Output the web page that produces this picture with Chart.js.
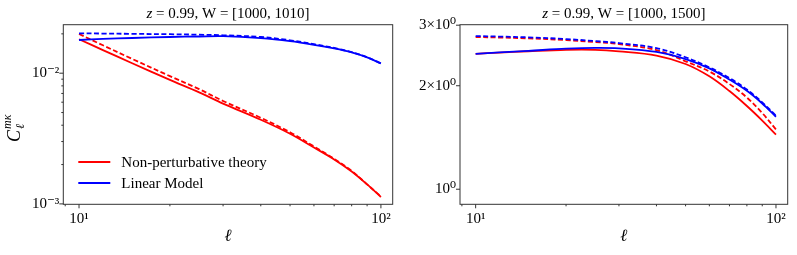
<!DOCTYPE html>
<html>
<head>
<meta charset="utf-8">
<script src="https://cdn.jsdelivr.net/npm/chart.js@4.4.1/dist/chart.umd.min.js"></script>
<style>
  body { margin: 0; background: #fff; }
  #wrap { position: relative; width: 797px; height: 255px; }
  canvas { position: absolute; top: 0; }
</style>
</head>
<body>
<div id="wrap">
  <canvas id="left" width="400" height="255" style="left:0"></canvas>
  <canvas id="right" width="397" height="255" style="left:400px"></canvas>
</div>
<script>
const ell = [10, 12, 15, 20, 25, 30, 40, 50, 60, 70, 80, 90, 100];

// left panel, W = [1000, 1010]
const nptNarrow     = [0.01817, 0.01503, 0.01192, 0.0089, 0.00714, 0.00585, 0.0044, 0.00344, 0.0027, 0.00219, 0.00177, 0.00141, 0.00113];
const nptNarrowDash = [0.01995, 0.01635, 0.01286, 0.0095, 0.00755, 0.00613, 0.00456, 0.00353, 0.00275, 0.00221, 0.00179, 0.00141, 0.00114];
const linNarrow     = [0.01795, 0.01828, 0.01859, 0.01892, 0.01909, 0.01919, 0.01853, 0.01758, 0.0165, 0.01546, 0.01441, 0.0132, 0.01188];
const linNarrowDash = [0.02018, 0.02011, 0.0200, 0.01987, 0.0197, 0.0195, 0.01892, 0.01786, 0.01667, 0.0156, 0.01449, 0.01324, 0.01192];

// right panel, W = [1000, 1500]
const nptWide     = [2.477, 2.497, 2.52, 2.544, 2.544, 2.518, 2.448, 2.313, 2.13, 1.93, 1.746, 1.584, 1.442];
const nptWideDash = [2.771, 2.762, 2.747, 2.716, 2.679, 2.644, 2.54, 2.355, 2.2, 2.023, 1.848, 1.666, 1.492];
const linWide     = [2.477, 2.501, 2.527, 2.563, 2.578, 2.57, 2.509, 2.391, 2.247, 2.084, 1.933, 1.776, 1.625];
const linWideDash = [2.79, 2.78, 2.765, 2.734, 2.697, 2.661, 2.574, 2.42, 2.262, 2.106, 1.95, 1.79, 1.636];

const xTicks = [10, 100];
const xTickLabels = ["10¹", "10²"];
const yTicksNarrow = [0.001, 0.01];
const yTickLabelsNarrow = ["10⁻³", "10⁻²"];
const yTicksWide = [1, 2, 3];
const yTickLabelsWide = ["10⁰", "2×10⁰", "3×10⁰"];

const SERIF = '"Liberation Serif", "DejaVu Serif", serif';
const RED = '#ff0000', BLUE = '#0000ff';
const FS = 15;

function minorTicks(min, max) {
  const out = [];
  for (let e = -4; e <= 3; e++) {
    for (let m = 1; m <= 9; m++) {
      const v = m * Math.pow(10, e);
      if (v >= min && v <= max) out.push(v);
    }
  }
  return out;
}

// frame, tick marks, title, axis labels, legend
const deco = {
  id: 'deco',
  afterDraw(chart, args, o) {
    const { ctx, chartArea: a, scales: { x, y } } = chart;
    ctx.save();
    ctx.strokeStyle = '#333';
    ctx.lineWidth = 1;
    ctx.strokeRect(a.left, a.top, a.right - a.left, a.bottom - a.top);

    ctx.beginPath();
    minorTicks(x.min, x.max).forEach(v => {
      const px = x.getPixelForValue(v);
      const len = xTicks.includes(v) ? 4 : 2;
      ctx.moveTo(px, a.bottom); ctx.lineTo(px, a.bottom + len);
    });
    minorTicks(y.min, y.max).forEach(v => {
      const py = y.getPixelForValue(v);
      const len = o.yTicks.some(t => Math.abs(t - v) < 1e-9) ? 4 : 2;
      ctx.moveTo(a.left, py); ctx.lineTo(a.left - len, py);
    });
    ctx.stroke();

    const cx = (a.left + a.right) / 2;
    ctx.fillStyle = '#000';
    ctx.textBaseline = 'middle';
    // title with italic z
    const t1 = 'z', t2 = ' = 0.99, W = ' + o.window;
    ctx.font = 'italic ' + FS + 'px ' + SERIF;
    const w1 = ctx.measureText(t1).width;
    ctx.font = FS + 'px ' + SERIF;
    const w2 = ctx.measureText(t2).width;
    const tx = cx - (w1 + w2) / 2;
    ctx.font = 'italic ' + FS + 'px ' + SERIF;
    ctx.textAlign = 'left';
    ctx.fillText(t1, tx, 14);
    ctx.font = FS + 'px ' + SERIF;
    ctx.fillText(t2, tx + w1, 14);

    // x label
    ctx.font = 'italic 17px ' + SERIF;
    ctx.textAlign = 'center';
    ctx.fillText('ℓ', cx, 237);

    if (o.ylabel) {
      ctx.save();
      ctx.translate(14, 122);
      ctx.rotate(-Math.PI / 2);
      ctx.textAlign = 'left';
      ctx.textBaseline = 'alphabetic';
      ctx.font = 'italic 18px ' + SERIF;
      const cw = ctx.measureText('C').width;
      ctx.fillText('C', -20, 6);
      ctx.font = 'italic 12px ' + SERIF;
      ctx.fillText('ℓ', -20 + cw + 1, 10);
      ctx.fillText('mκ', -20 + cw + 1, -3);
      ctx.restore();
    }

    if (o.legend) {
      ctx.lineWidth = 1.8;
      ctx.textAlign = 'left';
      ctx.font = FS + 'px ' + SERIF;
      o.legend.forEach((item, i) => {
        const ly = 162 + i * 21;
        ctx.strokeStyle = item.color;
        ctx.beginPath();
        ctx.moveTo(a.left + 15, ly); ctx.lineTo(a.left + 47, ly);
        ctx.stroke();
        ctx.fillStyle = '#000';
        ctx.fillText(item.text, a.left + 58, ly + 1);
      });
    }
    ctx.restore();
  }
};

function series(vals, color, dashed) {
  return {
    data: ell.map((l, i) => ({ x: l, y: vals[i] })),
    borderColor: color,
    borderWidth: 1.8,
    borderDash: dashed ? [5, 2.5] : [],
    pointRadius: 0,
    fill: false,
    tension: 0.35
  };
}

function makeChart(id, sets, yMin, yMax, yTicks, yLabels, axisW, padRight, extra) {
  return new Chart(document.getElementById(id), {
    type: 'line',
    data: { datasets: sets },
    plugins: [deco],
    options: {
      responsive: false,
      animation: false,
      devicePixelRatio: 1,
      layout: { padding: { top: 24.7, right: padRight, left: 0, bottom: 0 } },
      plugins: {
        legend: { display: false },
        tooltip: { enabled: false },
        deco: Object.assign({ yTicks: yTicks }, extra)
      },
      scales: {
        x: {
          type: 'logarithmic',
          min: 8.87, max: 109.4,
          afterBuildTicks: s => { s.ticks = xTicks.map(v => ({ value: v })); },
          afterFit: s => { s.height = 50.7; },
          ticks: {
            callback: (v, i) => xTickLabels[i],
            font: { family: SERIF, size: FS },
            color: '#000', padding: 6, maxRotation: 0, autoSkip: false
          },
          grid: { display: false, drawTicks: false },
          border: { display: false }
        },
        y: {
          type: 'logarithmic',
          min: yMin, max: yMax,
          afterBuildTicks: s => { s.ticks = yTicks.map(v => ({ value: v })); },
          afterFit: s => { s.width = axisW; },
          ticks: {
            callback: (v, i) => yLabels[i],
            font: { family: SERIF, size: FS },
            color: '#000', padding: 4, autoSkip: false
          },
          grid: { display: false, drawTicks: false },
          border: { display: false }
        }
      }
    }
  });
}

makeChart('left', [
  series(linNarrowDash, BLUE, true),
  series(linNarrow, BLUE, false),
  series(nptNarrowDash, RED, true),
  series(nptNarrow, RED, false)
], 0.000993, 0.0235, yTicksNarrow, yTickLabelsNarrow, 63.3, 7.3, {
  window: '[1000, 1010]',
  ylabel: true,
  legend: [{ text: 'Non-perturbative theory', color: RED }, { text: 'Linear Model', color: BLUE }]
});

makeChart('right', [
  series(linWideDash, BLUE, true),
  series(linWide, BLUE, false),
  series(nptWideDash, RED, true),
  series(nptWide, RED, false)
], 0.904, 3.01, yTicksWide, yTickLabelsWide, 60, 9.3, {
  window: '[1000, 1500]'
});
</script>
</body>
</html>
